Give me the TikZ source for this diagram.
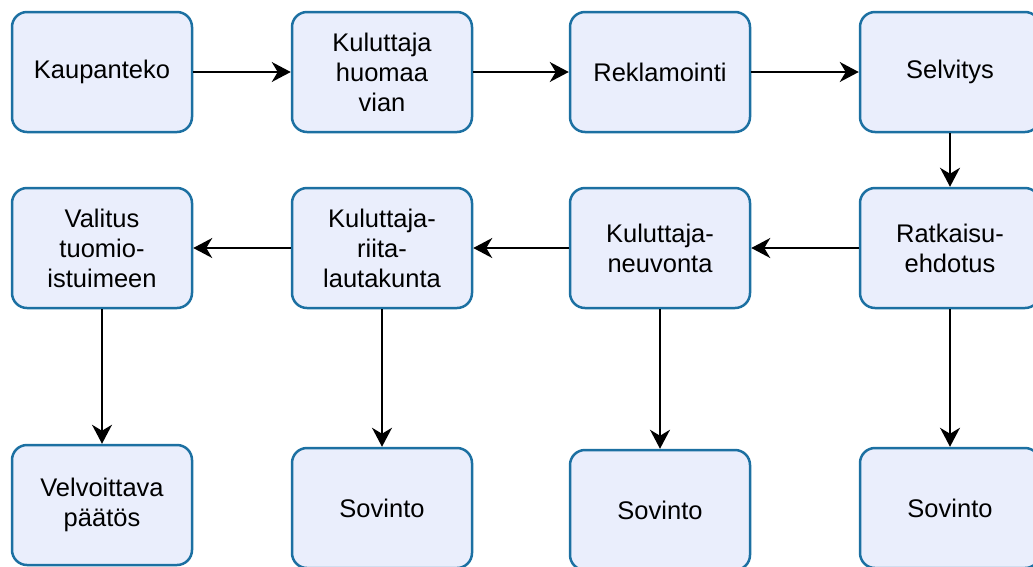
\documentclass[tikz,border=0pt]{standalone}
\usepackage{fontspec}
\setmainfont{Liberation Sans}
\usetikzlibrary{arrows.meta,positioning}

\definecolor{boxfill}{RGB}{234,238,252}
\definecolor{boxline}{RGB}{28,112,162}

\begin{document}
\begin{tikzpicture}[%
    x=1pt, y=1pt,
    >={Stealth[length=19pt,width=20pt,inset=6pt]}, % Filled arrow tips
    node distance=176pt and 280pt,                  % Global setup of box spacing
    ]
% -------------------------------------------------
% Box and connector styles
\tikzset{
  base/.style={draw=boxline, fill=boxfill, line width=2.5pt, on grid,
    align=center, rounded corners=15pt, inner sep=2pt,
    minimum width=180pt, minimum height=120pt,
    font=\fontsize{25.5}{30}\selectfont},
  proc/.style={base, rectangle, text width=172pt},
  norm/.style={->, draw, line width=1.8pt}
}
% Picture frame
\useasboundingbox (0,0) rectangle (1033,-566);
% -------------------------------------------------
% First row, left to right
\node [proc] (kaup) at (102,-72) {Kaupanteko};
\node [proc, right=280pt of kaup] (huom) {Kuluttaja\\huomaa\\vian};
\node [proc, right=278pt of huom] (rekl) {Reklamointi};
\node [proc, right=290pt of rekl] (selv) {Selvitys};
% Second row, right to left
\node [proc, below=176pt of selv] (ratk) {Ratkaisu-\\ehdotus};
\node [proc, left=290pt of ratk] (neuv) {Kuluttaja-\\neuvonta};
\node [proc, left=278pt of neuv] (riita) {Kuluttaja-\\riita-\\lautakunta};
\node [proc, left=280pt of riita] (vali) {Valitus\\tuomio-\\istuimeen};
% Outcomes
\node [proc, below=257pt of vali] (velv) {Velvoittava\\päätös};
\node [proc, below=260pt of riita] (sov1) {Sovinto};
\node [proc, below=262pt of neuv] (sov2) {Sovinto};
\node [proc, below=260pt of ratk] (sov3) {Sovinto};

% -------------------------------------------------
% Connectors
\draw [norm] (kaup) -- (huom);
\draw [norm] (huom) -- (rekl);
\draw [norm] (rekl) -- (selv);
\draw [norm] (selv) -- (ratk);
\draw [norm] (ratk) -- (neuv);
\draw [norm] (neuv) -- (riita);
\draw [norm] (riita) -- (vali);
\draw [norm] (vali) -- (velv);
\draw [norm] (riita) -- (sov1);
\draw [norm] (neuv) -- (sov2);
\draw [norm] (ratk) -- (sov3);

% -------------------------------------------------
\end{tikzpicture}
\end{document}
